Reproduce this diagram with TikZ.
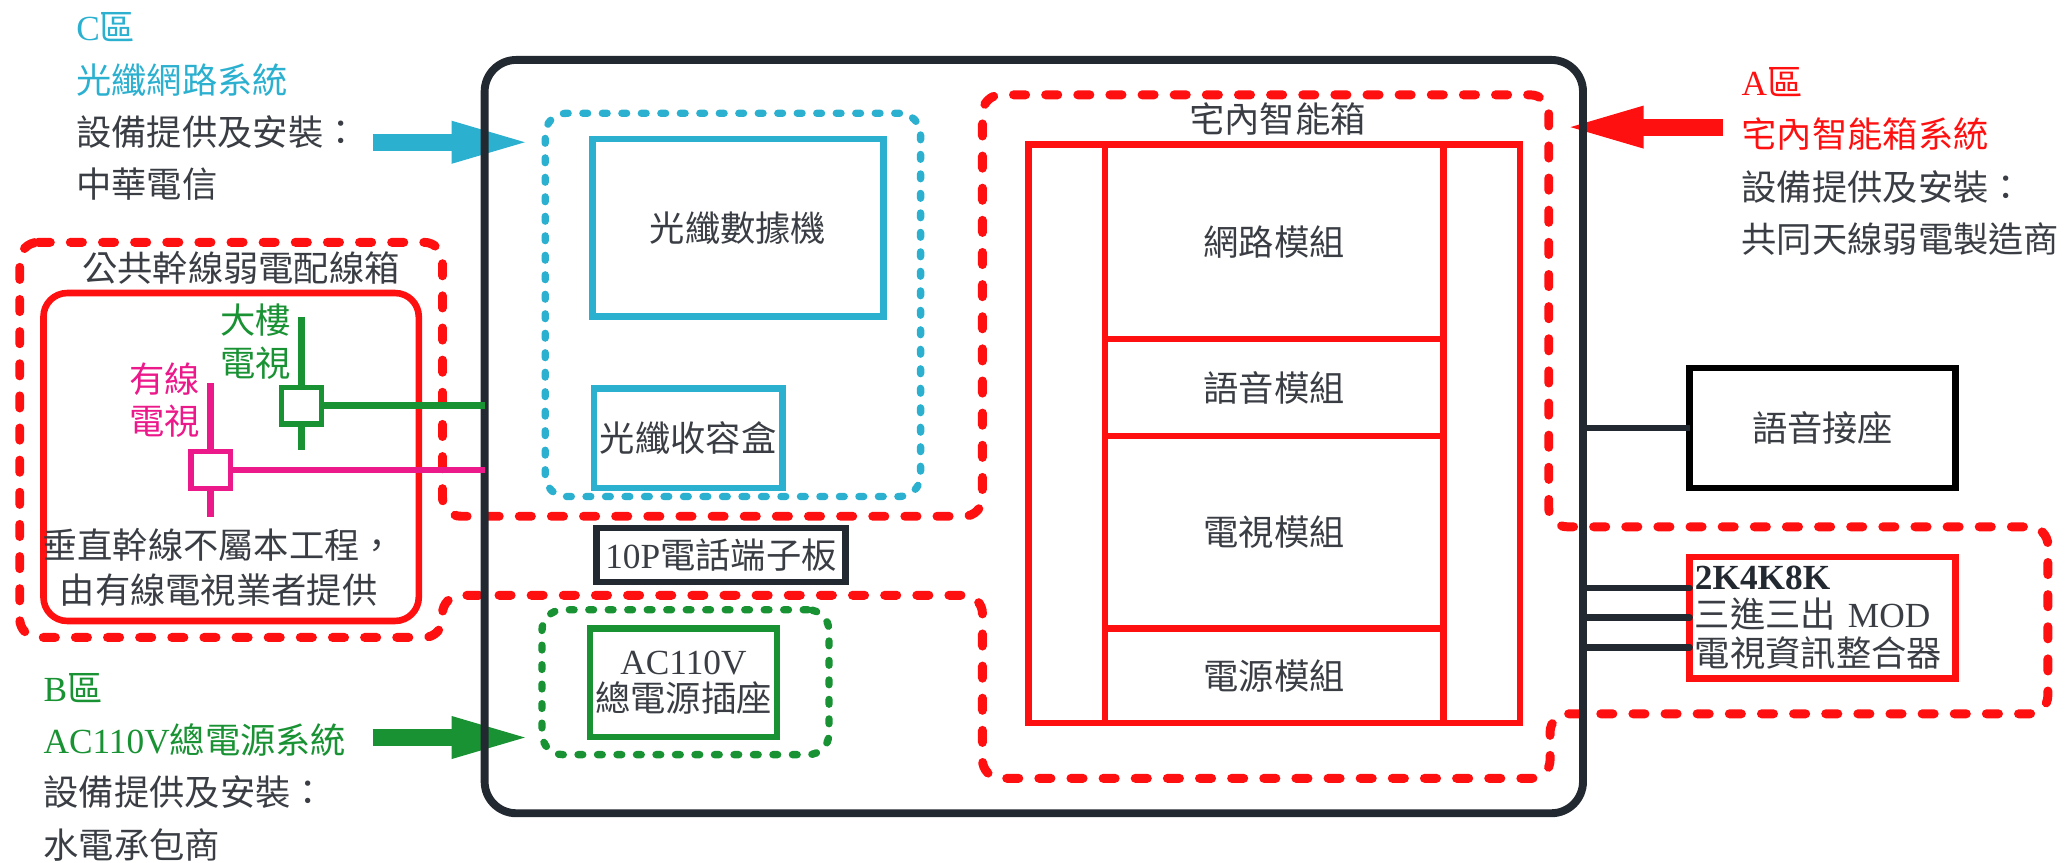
\documentclass[tikz,border=0pt]{standalone}
\usepackage{fontspec}
\setmainfont{Liberation Serif}
\newfontfamily\cjkfont{Noto Sans CJK TC}
\usetikzlibrary{positioning,arrows.meta,backgrounds,calc}

\definecolor{fibercyan}{RGB}{43,176,208}
\definecolor{powergreen}{RGB}{25,146,52}
\definecolor{cablepink}{RGB}{236,25,139}
\definecolor{zonered}{RGB}{255,16,16}
\definecolor{frameblack}{RGB}{35,41,48}
\definecolor{textgray}{RGB}{58,62,68}

\newcommand{\westtext}[1]{{\rmfamily #1}}

\begin{document}
\begin{tikzpicture}[
    x=0.5pt, y=-0.5pt,
    txt/.style={font=\cjkfont\fontsize{13.4pt}{#1}\selectfont, text=textgray, inner sep=0pt},
    txt/.default=19.85pt,
    box/.style={draw, line width=2.5pt, inner sep=1pt, outer sep=0pt, txt, align=center},
    module/.style={box, draw=zonered, minimum width=128.5pt},
    rail/.style={box, draw=zonered, minimum width=29pt, minimum height=219.75pt},
    device/.style={box, minimum width=101pt},
    zone/.style={draw, line width=2.8pt, line cap=round, dash pattern=on 1.8pt off 5.6pt, rounded corners=8pt, outer sep=0pt},
    redzone/.style={draw=zonered, line width=3.4pt, line cap=round, dash pattern=on 4.6pt off 7.6pt, rounded corners=7pt},
    junction/.style={draw, fill=white, line width=2pt, minimum width=15pt, minimum height=14pt, inner sep=0pt, outer sep=0pt},
    feed/.style={line width=2.5pt},
    wire/.style={frameblack, line width=2.5pt},
    bigarrow/.style={line width=6.5pt, -{Triangle[length=31pt, width=14pt]}}
]

\useasboundingbox (0,0) rectangle (1568,655);

% Main cabinet outline
\node[draw=frameblack, line width=3pt, rounded corners=12pt, minimum width=417pt, minimum height=286pt, outer sep=0pt] (mainbox) at (785,331.5) {};

% C zone: fibre network
\node[zone, draw=fibercyan, minimum width=142.5pt, minimum height=145.5pt] (fiberzone) at (556.5,231.5) {};
\node[box, draw=fibercyan, minimum width=110.35pt, minimum height=67.5pt] (modem) at (560.35,173) {光纖數據機};
\node[box, draw=fibercyan, minimum width=71.5pt, minimum height=37.8pt] (fiberbox) at (522.5,332.8) {光纖收容盒};

% Telephone terminal board
\node[box, draw=frameblack, minimum width=94.5pt, minimum height=20.5pt] (termboard) at (547.5,421.5) {\westtext{10P}電話端子板};

% B zone: mains power
\node[zone, draw=powergreen, minimum width=109pt, minimum height=55pt] (powerzone) at (520.5,518) {};
\node[box, draw=powergreen, txt=14pt, minimum width=71pt, minimum height=41.25pt] (outlet) at (519,518.25) {\westtext{AC110V}\\總電源插座};

% A zone: home smart box
\node[txt] (hometitle) at (970,90) {宅內智能箱};
\node[module, minimum height=74pt] (netmod) at (967.5,183.5) {網路模組};
\node[module, minimum height=36.75pt, below=0pt of netmod] (voicemod) {語音模組};
\node[module, minimum height=73pt, below=0pt of voicemod] (tvmod) {電視模組};
\node[module, minimum height=36pt, below=0pt of tvmod] (powermod) {電源模組};
\node[rail, anchor=north east] (leftrail) at (netmod.north west) {};
\node[rail, anchor=north west] (rightrail) at (netmod.north east) {};

% Outlets outside the cabinet
\node[device, draw=black, minimum height=45.5pt] (voicejack) at (1384,325) {語音接座};
\node[device, draw=zonered, minimum height=46pt, txt=14.5pt, align=left, text width=97pt] (tvint) at (1384,469) {{\color{frameblack}\westtext{\bfseries 2K4K8K}}\\三進三出 \westtext{MOD}\\電視資訊整合器};

\draw[wire] (mainbox.east |- voicejack.west) -- (voicejack.west);
\foreach \dy [count=\i] in {-22.5,0,22.5} {
    \coordinate (tvport\i) at ($(tvint.west)+(0,\dy)$);
    \draw[wire, line cap=round] (mainbox.east |- tvport\i) -- (tvport\i);
}

% Public trunk distribution box
\node[txt] (trunktitle) at (183,203.6) {公共幹線弱電配線箱};
\node[draw=zonered, line width=2.5pt, rounded corners=9pt, minimum width=142.5pt, minimum height=124.5pt, outer sep=0pt] (trunkbox) at (175.5,347) {};
\node[txt=17pt, align=center] (trunknote) at (166,431) {垂直幹線不屬本工程，\\由有線電視業者提供};

% Building TV feed
\coordinate (bldgtop) at (229,240.5);
\coordinate (bldgbot) at (229,342);
\node[junction, draw=powergreen] (bldgjct) at (229,308) {};
\node[txt=16.5pt, text=powergreen, align=left] (bldglabel) at (194,259.5) {大樓\\電視};
\draw[feed, powergreen] (bldgtop) -- (bldgjct.north);
\draw[feed, powergreen] (bldgjct.south) -- (bldgbot);
\draw[feed, powergreen] (bldgjct.east) -- (bldgjct.east -| mainbox.west);

% Cable TV feed
\coordinate (cabletop) at (160,291);
\coordinate (cablebot) at (160,392.5);
\node[junction, draw=cablepink] (cablejct) at (160,357) {};
\node[txt=16pt, text=cablepink, align=left] (cablelabel) at (125,304) {有線\\電視};
\draw[feed, cablepink] (cabletop) -- (cablejct.north);
\draw[feed, cablepink] (cablejct.south) -- (cablebot);
\draw[feed, cablepink] (cablejct.east) -- (cablejct.east -| mainbox.west);

% Zone labels
\node[txt, align=left, anchor=west] (clabel) at (57.6,81) {\textcolor{fibercyan}{\westtext{C}區}\\\textcolor{fibercyan}{光纖網路系統}\\設備提供及安裝：\\中華電信};
\node[txt, align=left, anchor=west] (alabel) at (1322,122.5) {\textcolor{zonered}{\westtext{A}區}\\\textcolor{zonered}{宅內智能箱系統}\\設備提供及安裝：\\共同天線弱電製造商};
\node[txt, align=left, anchor=west] (blabel) at (32.7,582.5) {\textcolor{powergreen}{\westtext{B}區}\\\textcolor{powergreen}{\westtext{AC110V}總電源系統}\\設備提供及安裝：\\水電承包商};

% A zone boundary and supply arrows behind the cabinet
\begin{scope}[on background layer]
    \draw[redzone] (15,184) -- (336,184) -- (336,392) -- (746,392) -- (746,72) -- (1176,72) -- (1176,400) -- (1555,400) -- (1555,542) -- (1177,542) -- (1177,591) -- (746,591) -- (746,452) -- (336,452) -- (336,484) -- (15,484) -- cycle;
    \coordinate (cfeed) at (283,108);
    \coordinate (ctip) at (405,108);
    \coordinate (bfeed) at (283,560);
    \coordinate (btip) at (405,560);
    \coordinate (afeed) at (1308,96.5);
    \coordinate (atip) at (1186,96.5);
    \draw[bigarrow, fibercyan] (cfeed) -- (ctip);
    \draw[bigarrow, powergreen] (bfeed) -- (btip);
    \draw[bigarrow, zonered] (afeed) -- (atip);
\end{scope}

\end{tikzpicture}
\end{document}
